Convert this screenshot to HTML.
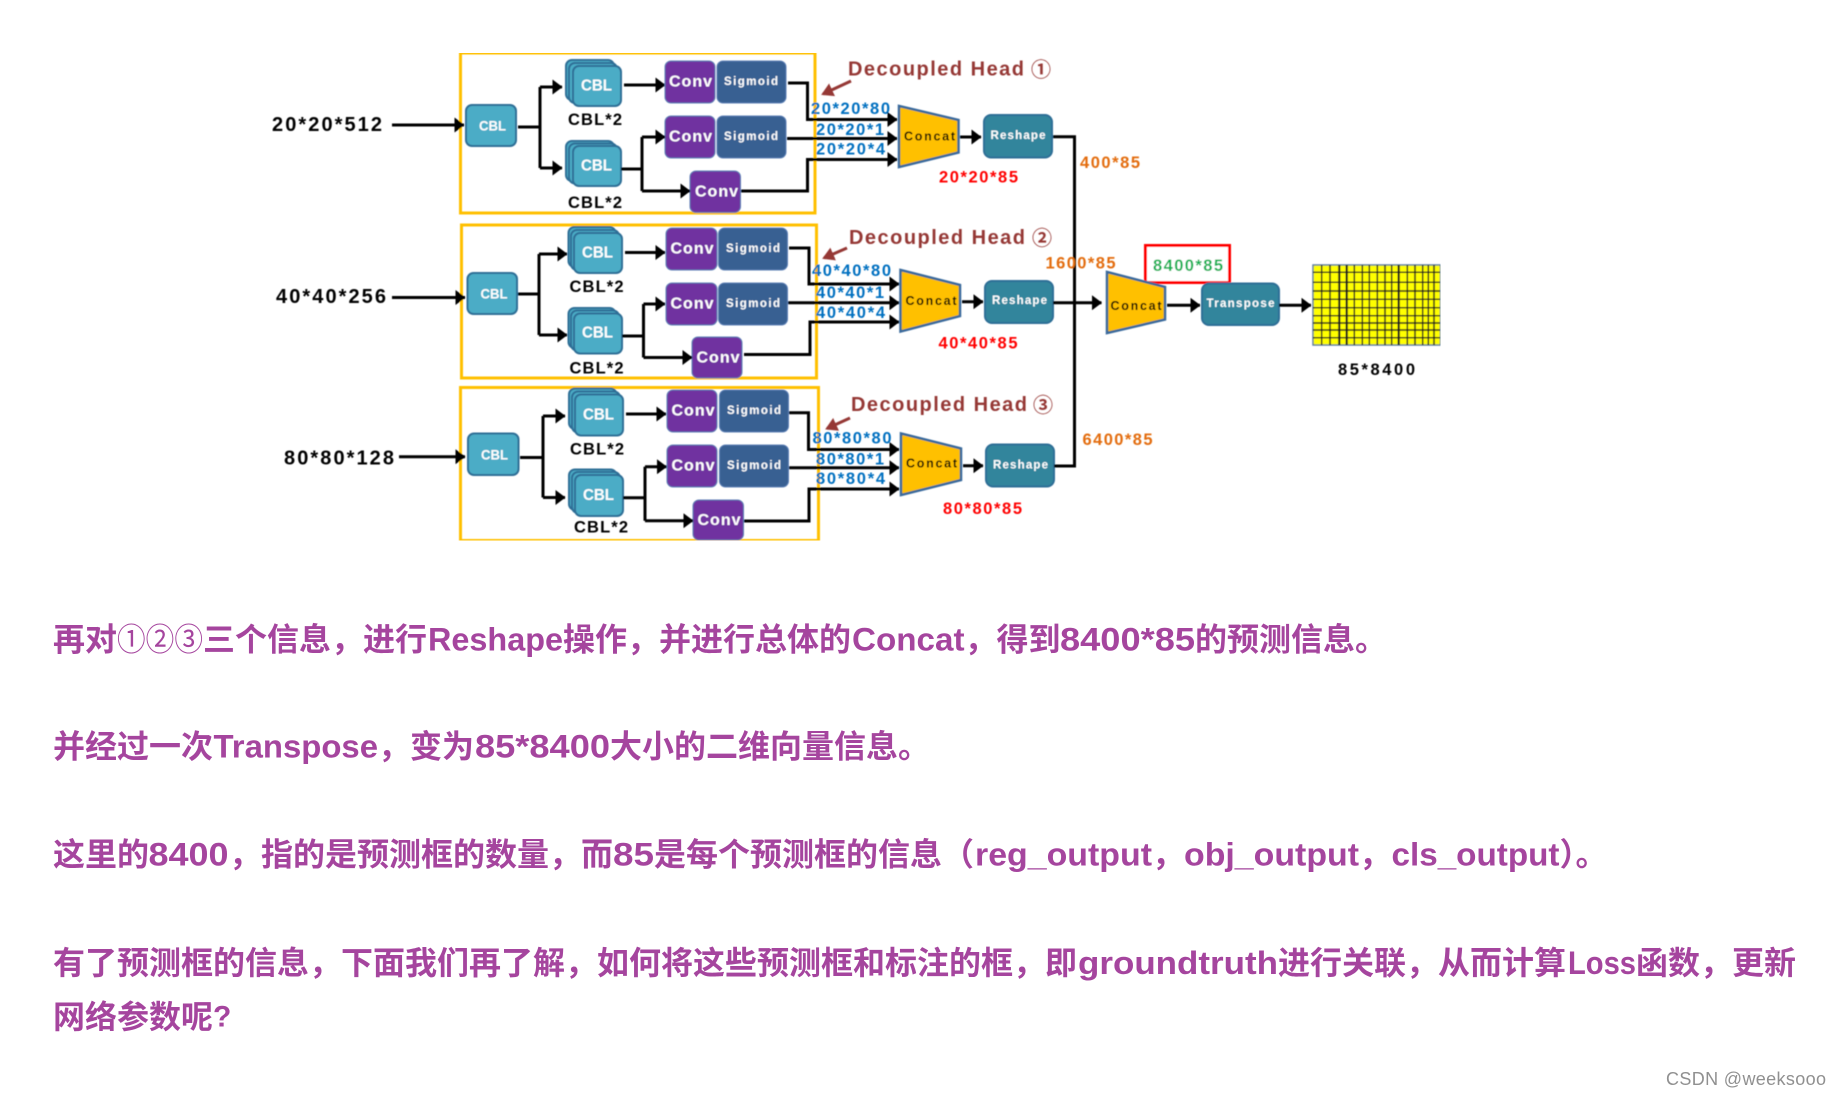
<!DOCTYPE html>
<html><head><meta charset="utf-8"><style>
html,body{margin:0;padding:0;background:#fff;width:1840px;height:1096px;overflow:hidden}
svg{display:block}
text{font-family:"Liberation Sans","Noto Sans CJK SC",sans-serif;font-weight:700;dominant-baseline:central}
.l{fill:none;stroke:#000;stroke-width:3}
.a{marker-end:url(#a)}
.y{fill:none;stroke:#FFC000;stroke-width:3}
.c{fill:#4BACC6;stroke:#2E6E96;stroke-width:2}
.p{fill:#7030A0;stroke:#5b7fb5;stroke-width:1}
.s{fill:#376092;stroke:#5b7fb5;stroke-width:1}
.r{fill:#31859C;stroke:#2E6E96;stroke-width:2}
.t{fill:#FFC000;stroke:#3A6A9C;stroke-width:2.5}
.w{fill:#fff}
.b{fill:#0070C0;font-size:16.5px}
.o{fill:#E36C0A;font-size:16.5px}
.e{fill:#f00;font-size:16.5px}
.k{fill:#000}
.d{fill:#953735;font-size:20px}
.n{fill:#953735;font-size:20px}
.h{fill:none;stroke:#953735;stroke-width:3}
.para{fill:#A5459E;font-size:32px}
.g line{stroke:#1a1a1a;stroke-width:1.5}
</style></head><body>
<svg width="1840" height="1096" viewBox="0 0 1840 1096" xmlns="http://www.w3.org/2000/svg">
<defs>
<marker id="a" markerUnits="userSpaceOnUse" markerWidth="10" markerHeight="15" refX="9.5" refY="7.5" orient="auto"><path d="M0 0L10 7.5L0 15z" fill="#000"/></marker>
<marker id="m" markerUnits="userSpaceOnUse" markerWidth="12" markerHeight="14" refX="10" refY="7" orient="auto"><path d="M0 0L12 7L0 14z" fill="#953735"/></marker>
<filter id="bl" x="0" y="0" width="100%" height="100%"><feGaussianBlur stdDeviation="0.45"/></filter>
<filter id="bp" x="0" y="0" width="100%" height="100%"><feGaussianBlur stdDeviation="0.3"/></filter>
</defs>
<g filter="url(#bl)">
<!-- Row 1 -->
<rect class="y" x="460.5" y="53" width="354.5" height="160"/>
<text class="k" x="272" y="125" font-size="20" textLength="110">20*20*512</text>
<path class="l a" d="M392 125H464"/>
<rect class="c" x="466" y="105" width="50" height="41" rx="6"/>
<text class="w" x="479" y="126" font-size="13.5" textLength="27" lengthAdjust="spacingAndGlyphs">CBL</text>
<path class="l" d="M518 127H540M540 87V168"/>
<path class="l a" d="M540 87H562"/><path class="l a" d="M540 168H562"/>
<rect class="c" x="566" y="60" width="48" height="40" rx="6"/><rect class="c" x="569" y="63" width="48" height="40" rx="6"/><rect class="c" x="573" y="66" width="48" height="40" rx="6"/>
<text class="w" x="581" y="86" font-size="15.5" textLength="31" lengthAdjust="spacingAndGlyphs">CBL</text>
<rect class="c" x="566" y="141" width="48" height="40" rx="6"/><rect class="c" x="569" y="143.5" width="48" height="40" rx="6"/><rect class="c" x="573" y="146" width="48" height="40" rx="6"/>
<text class="w" x="581" y="166" font-size="15.5" textLength="31" lengthAdjust="spacingAndGlyphs">CBL</text>
<text class="k" x="568" y="120" font-size="16.5" textLength="54">CBL*2</text>
<text class="k" x="568" y="203" font-size="16.5" textLength="54">CBL*2</text>
<path class="l a" d="M624 85H665"/>
<rect class="p" x="665" y="61" width="50" height="42" rx="6"/><rect class="s" x="717" y="61" width="69" height="42" rx="6"/>
<text class="w" x="669" y="82" font-size="16" textLength="43">Conv</text><text class="w" x="724" y="82" font-size="11.5" textLength="54">Sigmoid</text>
<rect class="p" x="665" y="116" width="50" height="42" rx="6"/><rect class="s" x="717" y="116" width="69" height="42" rx="6"/>
<text class="w" x="669" y="137" font-size="16" textLength="43">Conv</text><text class="w" x="724" y="137" font-size="11.5" textLength="54">Sigmoid</text>
<rect class="p" x="690" y="171" width="50.5" height="41.5" rx="6"/>
<text class="w" x="695" y="192" font-size="16" textLength="43">Conv</text>
<path class="l" d="M621 169H642M642 137V191"/>
<path class="l a" d="M642 137H665"/><path class="l a" d="M642 191H690"/>
<text class="b" x="811" y="109" textLength="79">20*20*80</text>
<text class="b" x="816" y="130" textLength="68">20*20*1</text>
<text class="b" x="816" y="149.5" textLength="69">20*20*4</text>
<path class="l a" d="M788 83H807.5V119.5H897"/>
<path class="l a" d="M787 138.5H897"/>
<path class="l a" d="M741 191H807.5V159.5H897"/>
<polygon class="t" points="899,106 958.5,120 958.5,152.5 899,167"/>
<text class="k" x="904" y="136.5" font-size="12.5" textLength="51">Concat</text>
<path class="l a" d="M960 137H981"/>
<rect class="r" x="984" y="115" width="68" height="42.5" rx="7"/>
<text class="w" x="990.5" y="136" font-size="11.5" textLength="55">Reshape</text>
<text class="e" x="939" y="177.5" textLength="79">20*20*85</text>
<text class="d" x="848" y="69.5" textLength="176">Decoupled Head</text>
<text class="n" x="1031" y="70.5">①</text>
<path class="h" d="M851 81L823 94" marker-end="url(#m)"/>
<!-- Row 2 -->
<rect class="y" x="461.5" y="225" width="355" height="153"/>
<text class="k" x="276" y="297" font-size="20" textLength="110">40*40*256</text>
<path class="l a" d="M392 297.5H465"/>
<rect class="c" x="467.5" y="273" width="49.5" height="41" rx="6"/>
<text class="w" x="480.5" y="294" font-size="13.5" textLength="27" lengthAdjust="spacingAndGlyphs">CBL</text>
<path class="l" d="M518 294H539M539 254V335"/>
<path class="l a" d="M539 254H567"/><path class="l a" d="M539 335H567"/>
<rect class="c" x="568.5" y="227" width="47" height="40" rx="6"/><rect class="c" x="571" y="230" width="48" height="40" rx="6"/><rect class="c" x="574" y="233" width="48" height="40" rx="6"/>
<text class="w" x="582" y="253" font-size="15.5" textLength="31" lengthAdjust="spacingAndGlyphs">CBL</text>
<rect class="c" x="568.5" y="308" width="47" height="40" rx="6"/><rect class="c" x="571" y="310.5" width="48" height="40" rx="6"/><rect class="c" x="574" y="313.5" width="48" height="40" rx="6"/>
<text class="w" x="582" y="333" font-size="15.5" textLength="31" lengthAdjust="spacingAndGlyphs">CBL</text>
<text class="k" x="569.5" y="287" font-size="16.5" textLength="54">CBL*2</text>
<text class="k" x="569.5" y="368.5" font-size="16.5" textLength="54">CBL*2</text>
<path class="l a" d="M625 252.5H665"/>
<rect class="p" x="666" y="228" width="51" height="42" rx="6"/><rect class="s" x="718.5" y="228" width="69" height="42" rx="6"/>
<text class="w" x="670.5" y="249" font-size="16" textLength="43">Conv</text><text class="w" x="726" y="249" font-size="11.5" textLength="54">Sigmoid</text>
<rect class="p" x="666" y="283" width="51" height="42" rx="6"/><rect class="s" x="718.5" y="283" width="69" height="42" rx="6"/>
<text class="w" x="670.5" y="304" font-size="16" textLength="43">Conv</text><text class="w" x="726" y="304" font-size="11.5" textLength="54">Sigmoid</text>
<rect class="p" x="692" y="337" width="50" height="41" rx="6"/>
<text class="w" x="696.5" y="358" font-size="16" textLength="43">Conv</text>
<path class="l" d="M622 336H643.5M643.5 304V357.5"/>
<path class="l a" d="M643.5 304H665"/><path class="l a" d="M643.5 357.5H692"/>
<text class="b" x="812" y="271" textLength="79">40*40*80</text>
<text class="b" x="816" y="293" textLength="68">40*40*1</text>
<text class="b" x="816" y="313" textLength="69">40*40*4</text>
<path class="l a" d="M789 248H809V284H899"/>
<path class="l a" d="M788 302.7H899"/>
<path class="l a" d="M744 354.5H810V322H899"/>
<polygon class="t" points="900.5,270 960,285 960,316 900.5,331.5"/>
<text class="k" x="905.5" y="301" font-size="12.5" textLength="51">Concat</text>
<path class="l a" d="M962 301.7H983"/>
<rect class="r" x="985" y="281" width="68" height="42" rx="7"/>
<text class="w" x="992" y="301" font-size="11.5" textLength="55">Reshape</text>
<text class="e" x="938.5" y="343.5" textLength="79">40*40*85</text>
<text class="d" x="849" y="238" textLength="176">Decoupled Head</text>
<text class="n" x="1032" y="239">②</text>
<path class="h" d="M847 248L824 258" marker-end="url(#m)"/>
<!-- Row 3 -->
<rect class="y" x="460.5" y="387.5" width="358" height="153"/>
<text class="k" x="284" y="458.5" font-size="20" textLength="110">80*80*128</text>
<path class="l a" d="M399 456.7H465"/>
<rect class="c" x="468" y="433.5" width="50.5" height="41.5" rx="6"/>
<text class="w" x="481" y="455" font-size="13.5" textLength="27" lengthAdjust="spacingAndGlyphs">CBL</text>
<path class="l" d="M520 457.5H543M543 416V497.5"/>
<path class="l a" d="M543 416H565"/><path class="l a" d="M543 497.5H565"/>
<rect class="c" x="569" y="388.5" width="47.5" height="40.5" rx="6"/><rect class="c" x="572" y="391.5" width="48" height="41" rx="6"/><rect class="c" x="575" y="394.5" width="48" height="41" rx="6"/>
<text class="w" x="583" y="415" font-size="15.5" textLength="31" lengthAdjust="spacingAndGlyphs">CBL</text>
<rect class="c" x="569" y="469.5" width="47.5" height="40.5" rx="6"/><rect class="c" x="572" y="472" width="48" height="41" rx="6"/><rect class="c" x="575" y="475" width="48" height="41" rx="6"/>
<text class="w" x="583" y="495.5" font-size="15.5" textLength="31" lengthAdjust="spacingAndGlyphs">CBL</text>
<text class="k" x="570" y="449.5" font-size="16.5" textLength="54">CBL*2</text>
<text class="k" x="574" y="527.5" font-size="16.5" textLength="54">CBL*2</text>
<path class="l a" d="M626 414H666"/>
<rect class="p" x="667" y="390" width="50" height="42" rx="6"/><rect class="s" x="719.5" y="390" width="69" height="42" rx="6"/>
<text class="w" x="671.5" y="411" font-size="16" textLength="43">Conv</text><text class="w" x="727" y="411" font-size="11.5" textLength="54">Sigmoid</text>
<rect class="p" x="667" y="445" width="50" height="42" rx="6"/><rect class="s" x="719.5" y="445" width="69" height="42" rx="6"/>
<text class="w" x="671.5" y="466" font-size="16" textLength="43">Conv</text><text class="w" x="727" y="466" font-size="11.5" textLength="54">Sigmoid</text>
<rect class="p" x="693" y="500" width="50.5" height="40" rx="6"/>
<text class="w" x="697.5" y="520.5" font-size="16" textLength="43">Conv</text>
<path class="l" d="M623 497.7H645M645 466.7V520.7"/>
<path class="l a" d="M645 466.7H666.5"/><path class="l a" d="M645 520.7H693"/>
<text class="b" x="812.5" y="438.5" textLength="79">80*80*80</text>
<text class="b" x="816" y="459.5" textLength="68">80*80*1</text>
<text class="b" x="816" y="479" textLength="69">80*80*4</text>
<path class="l a" d="M789 412.7H808.5V449.5H899"/>
<path class="l a" d="M789 467.7H899"/>
<path class="l a" d="M744 521H809V489H899"/>
<polygon class="t" points="901,433.5 961,448.5 961,480 901,495"/>
<text class="k" x="906" y="463.5" font-size="12.5" textLength="51">Concat</text>
<path class="l a" d="M963 465.7H983"/>
<rect class="r" x="986" y="444.5" width="68" height="42" rx="7"/>
<text class="w" x="993" y="465.5" font-size="11.5" textLength="55">Reshape</text>
<text class="e" x="943" y="509" textLength="79">80*80*85</text>
<text class="d" x="851" y="405" textLength="176">Decoupled Head</text>
<text class="n" x="1033" y="406">③</text>
<path class="h" d="M850 418L827 428.5" marker-end="url(#m)"/>
<!-- Merge -->
<path class="l" d="M1053 136.7H1074.5V466H1054"/>
<path class="l a" d="M1053 302.7H1101.5"/>
<text class="o" x="1080" y="163" textLength="60">400*85</text>
<text class="o" x="1045.5" y="263.5" textLength="70">1600*85</text>
<text class="o" x="1082.5" y="440" textLength="70">6400*85</text>
<rect x="1145.5" y="245.5" width="84" height="37" fill="#fff" stroke="#f00" stroke-width="3"/>
<text x="1153" y="266" fill="#00B050" font-size="16.5" textLength="70">8400*85</text>
<polygon class="t" points="1107,272 1165,287 1165,319.5 1107,333"/>
<text class="k" x="1110.5" y="306" font-size="12.5" textLength="51">Concat</text>
<path class="l a" d="M1167 305.3H1200"/>
<rect class="r" x="1202" y="283.5" width="77" height="41.5" rx="7"/>
<text class="w" x="1206.5" y="304" font-size="11.5" textLength="68">Transpose</text>
<path class="l a" d="M1279 305.3H1311"/>
<rect x="1313" y="265" width="127.5" height="80" fill="#FFFF00" stroke="#5f7f9f" stroke-width="1.5"/>
<g class="g">
<line x1="1321.7" y1="265" x2="1321.7" y2="345"/><line x1="1330" y1="265" x2="1330" y2="345"/><line x1="1339.3" y1="265" x2="1339.3" y2="345" style="stroke-width:2.2"/><line x1="1346.7" y1="265" x2="1346.7" y2="345" style="stroke-width:2.2"/><line x1="1354.3" y1="265" x2="1354.3" y2="345"/><line x1="1362.3" y1="265" x2="1362.3" y2="345"/><line x1="1369.3" y1="265" x2="1369.3" y2="345"/><line x1="1377.3" y1="265" x2="1377.3" y2="345"/><line x1="1385" y1="265" x2="1385" y2="345"/><line x1="1391.7" y1="265" x2="1391.7" y2="345"/><line x1="1398.7" y1="265" x2="1398.7" y2="345" style="stroke-width:2.2"/><line x1="1407.3" y1="265" x2="1407.3" y2="345"/><line x1="1415" y1="265" x2="1415" y2="345"/><line x1="1422.7" y1="265" x2="1422.7" y2="345"/><line x1="1428.3" y1="265" x2="1428.3" y2="345"/><line x1="1434" y1="265" x2="1434" y2="345"/>
<line x1="1313" y1="272.3" x2="1440" y2="272.3"/><line x1="1313" y1="282.3" x2="1440" y2="282.3"/><line x1="1313" y1="291" x2="1440" y2="291"/><line x1="1313" y1="299.3" x2="1440" y2="299.3"/><line x1="1313" y1="307.7" x2="1440" y2="307.7"/><line x1="1313" y1="315.7" x2="1440" y2="315.7"/><line x1="1313" y1="323" x2="1440" y2="323"/><line x1="1313" y1="330" x2="1440" y2="330"/><line x1="1313" y1="337.7" x2="1440" y2="337.7"/>
</g>
<text class="k" x="1338" y="370" font-size="16.5" textLength="77">85*8400</text>
</g>
<!-- Paragraphs -->
<g filter="url(#bp)">
<text class="para" x="53" y="639.5">再对</text>
<text class="para" x="117" y="639.5" textLength="86" lengthAdjust="spacingAndGlyphs" style="font-weight:400">①②③</text>
<text class="para" x="203" y="639.5">三个信息，进行</text>
<text class="para" x="428" y="639.5" textLength="135" lengthAdjust="spacingAndGlyphs">Reshape</text>
<text class="para" x="563" y="639.5">操作，并进行总体的</text>
<text class="para" x="852" y="639.5" textLength="112.500" lengthAdjust="spacingAndGlyphs">Concat</text>
<text class="para" x="964.500" y="639.5">，得到</text>
<text class="para" x="1060" y="639.5" textLength="135" lengthAdjust="spacingAndGlyphs">8400*85</text>
<text class="para" x="1195" y="639.5">的预测信息。</text>

<text class="para" x="53" y="746.5">并经过一次</text>
<text class="para" x="213.5" y="746.5" textLength="164.500" lengthAdjust="spacingAndGlyphs">Transpose</text>
<text class="para" x="378" y="746.5">，变为</text>
<text class="para" x="475" y="746.5" textLength="135" lengthAdjust="spacingAndGlyphs">85*8400</text>
<text class="para" x="610" y="746.5">大小的二维向量信息。</text>

<text class="para" x="53" y="854.5">这里的</text>
<text class="para" x="148.5" y="854.5" textLength="80" lengthAdjust="spacingAndGlyphs">8400</text>
<text class="para" x="229" y="854.5">，指的是预测框的数量，而</text>
<text class="para" x="613" y="854.5" textLength="41" lengthAdjust="spacingAndGlyphs">85</text>
<text class="para" x="654" y="854.5">是每个预测框的信息（</text>
<text class="para" x="975" y="854.5" textLength="177" lengthAdjust="spacingAndGlyphs">reg_output</text>
<text class="para" x="1152" y="854.5">，</text>
<text class="para" x="1184" y="854.5" textLength="175" lengthAdjust="spacingAndGlyphs">obj_output</text>
<text class="para" x="1359" y="854.5">，</text>
<text class="para" x="1391.5" y="854.5" textLength="168" lengthAdjust="spacingAndGlyphs">cls_output</text>
<text class="para" x="1559.5" y="854.5">）。</text>

<text class="para" x="53" y="963">有了预测框的信息，下面我们再了解，如何将这些预测框和标注的框，即</text>
<text class="para" x="1078" y="963" textLength="200" lengthAdjust="spacingAndGlyphs">groundtruth</text>
<text class="para" x="1278" y="963">进行关联，从而计算</text>
<text class="para" x="1568" y="963" textLength="68" lengthAdjust="spacingAndGlyphs">Loss</text>
<text class="para" x="1636" y="963">函数，更新</text>

<text class="para" x="53" y="1017">网络参数呢</text>
<text class="para" x="213" y="1017" font-size="30" style="font-size:30px">?</text>
</g>
<text x="1666" y="1079" fill="#909090" font-size="18" style="font-weight:400" textLength="160">CSDN @weeksooo</text>
</svg>
</body></html>
